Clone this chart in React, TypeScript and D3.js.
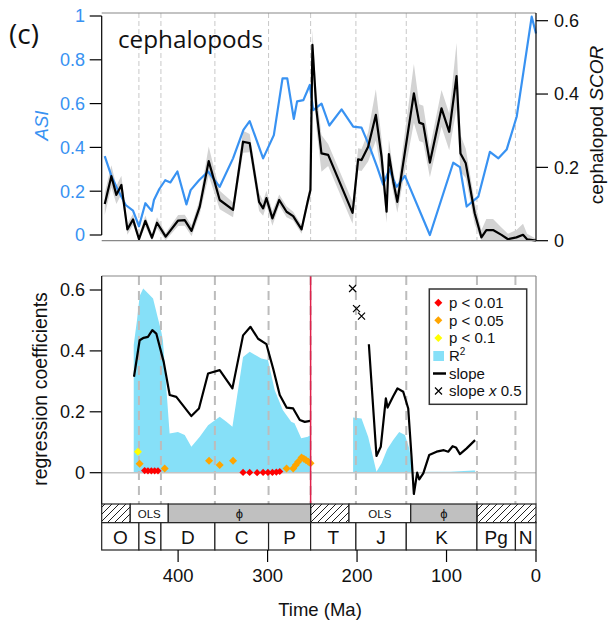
import React from 'react';
import * as d3 from 'd3';

// ---------- data ----------
const periodBounds = [485.4, 443.8, 419.2, 358.9, 298.9, 251.9, 201.3, 145, 66, 23, 0];
const periodNames = ['O', 'S', 'D', 'C', 'P', 'T', 'J', 'K', 'Pg', 'N'];
const methodBounds = [485.4, 453.5, 411, 251.9, 209, 140, 66, 0];
const methodKinds = ['hatch', 'OLS', 'phi', 'hatch', 'OLS', 'phi', 'hatch'];

const asiTicks = [0, 0.2, 0.4, 0.6, 0.8, 1];
const scorTicks = [0, 0.2, 0.4, 0.6];
const regTicks = [0, 0.2, 0.4, 0.6];
const timeTicks = [400, 300, 200, 100, 0];

// ASI series: [age Ma, value]
const asiSeries: [number, number][] = [
  [482, 0.36], [474.6, 0.27], [467.2, 0.205], [458.6, 0.137], [450.4, 0.111], [443.7, 0.04],
  [436.6, 0.145], [429.5, 0.11], [427, 0.16], [421, 0.21], [414.4, 0.25], [408.6, 0.24],
  [400.8, 0.29], [390.7, 0.14], [386, 0.205], [376.6, 0.25], [366.5, 0.29], [353.5, 0.22],
  [338.6, 0.35], [327, 0.48], [320, 0.52], [305, 0.35], [293, 0.456], [283.3, 0.715],
  [278, 0.715], [270.7, 0.53], [267, 0.61], [260, 0.616], [252.8, 0.685], [249, 0.57],
  [239.7, 0.6], [231, 0.5], [217.3, 0.574], [204.3, 0.495], [195, 0.49], [185.7, 0.4],
  [177.5, 0.31], [170.8, 0.23], [164, 0.3], [155.8, 0.22], [146.5, 0.27], [118.6, 0.0],
  [92.5, 0.33], [85, 0.31], [77.5, 0.13], [64.5, 0.175], [51.5, 0.38], [42, 0.35],
  [32.8, 0.39], [21.6, 0.54], [14.2, 0.74], [4.8, 0.997], [0, 0.92],
];

// cephalopod SCOR: [age, value, band half-width]
const scorSeries: [number, number, number][] = [
  [482, 0.1, 0.03], [474.6, 0.176, 0.03], [469, 0.125, 0.025], [463.4, 0.152, 0.025],
  [456.7, 0.031, 0.015], [450.4, 0.058, 0.015], [443.7, 0.004, 0.01], [436.6, 0.054, 0.015],
  [429.2, 0.008, 0.01], [423.6, 0.049, 0.015], [413.9, 0.011, 0.01], [400, 0.055, 0.015],
  [392.6, 0.056, 0.015], [385, 0.027, 0.015], [375.8, 0.093, 0.02], [365.8, 0.217, 0.04],
  [353.5, 0.111, 0.025], [338.6, 0.084, 0.02], [327.4, 0.27, 0.03], [320, 0.266, 0.025],
  [309.5, 0.106, 0.025], [305, 0.088, 0.02], [301.3, 0.116, 0.02], [294.6, 0.061, 0.02],
  [287, 0.111, 0.015], [278.8, 0.079, 0.015], [271.4, 0.067, 0.012], [262, 0.031, 0.012],
  [254.8, 0.111, 0.015], [252.1, 0.138, 0.02], [249.9, 0.534, 0.04], [245.4, 0.356, 0.05],
  [239.8, 0.238, 0.05], [232.3, 0.234, 0.03], [205, 0.076, 0.03], [198.8, 0.222, 0.03],
  [195, 0.22, 0.03], [187.6, 0.256, 0.04], [179, 0.343, 0.07], [172.6, 0.229, 0.05],
  [167, 0.079, 0.03], [164.4, 0.236, 0.04], [159.5, 0.161, 0.03], [155, 0.106, 0.03],
  [136.5, 0.402, 0.08], [130.5, 0.322, 0.05], [126, 0.318, 0.05], [118.6, 0.213, 0.04],
  [105.6, 0.361, 0.05], [97, 0.297, 0.05], [88.8, 0.449, 0.09], [84.4, 0.238, 0.05],
  [78.5, 0.211, 0.04], [68.5, 0.075, 0.03], [61, 0.009, 0.02], [55.5, 0.029, 0.03],
  [48, 0.029, 0.03], [38.6, 0.016, 0.02], [31.3, 0.004, 0.015], [21.9, 0.009, 0.02],
  [14.5, 0.016, 0.03], [10, 0.004, 0.015], [0, 0, 0.005],
];

// regression: R^2 areas
const r2Early: [number, number][] = [
  [449.6, 0.42], [446, 0.5], [443, 0.58], [439, 0.605], [434, 0.59], [428, 0.572],
  [422.5, 0.506], [418.7, 0.462], [417, 0.435], [409.5, 0.129], [400.2, 0.134],
  [392.6, 0.124], [385.2, 0.085], [375.8, 0.118], [366.5, 0.156], [353.5, 0.184],
  [346, 0.167], [339.3, 0.151], [327.4, 0.38], [320, 0.397], [307, 0.375], [299.6, 0.37],
  [292, 0.271], [283, 0.206], [273.6, 0.167], [269.9, 0.162], [262.4, 0.113], [255, 0.118],
  [252.3, 0.124],
];
const r2Late: [number, number][] = [
  [204.4, 0.181], [195, 0.178], [187.6, 0.118], [178.3, 0.003], [172.6, 0.031],
  [166.3, 0.077], [159.6, 0.107], [152.9, 0.134], [146.5, 0.124], [141.7, 0.08],
  [137.2, 0.0], [120.5, 0.003], [96.2, 0.003], [70, 0.007], [68, 0.007],
];
// slope lines
const slopeEarly: [number, number][] = [
  [449.3, 0.315], [443, 0.435], [438.5, 0.443], [433.7, 0.446], [428.8, 0.468],
  [424.4, 0.457], [416.1, 0.364], [409.4, 0.255], [402, 0.249], [385.2, 0.186],
  [376.7, 0.211], [366.5, 0.326], [353.5, 0.337], [339.3, 0.277], [327.4, 0.451],
  [319.1, 0.479], [310.6, 0.44], [301.3, 0.422], [293.8, 0.342], [286.4, 0.255],
  [278.8, 0.214], [271.4, 0.211], [264, 0.173], [258.4, 0.167], [252.3, 0.17],
];
const slopeLate: [number, number][] = [
  [186.8, 0.422], [178.3, 0.055], [173.5, 0.085], [167.8, 0.244], [165.9, 0.214],
  [159.6, 0.251], [154.8, 0.277], [148.4, 0.266], [142.8, 0.211], [139.1, 0.052],
  [136.5, -0.07], [132.8, 0.0], [130.5, -0.022], [126, -0.002], [119.4, 0.058],
  [111.1, 0.069], [103, 0.074], [98.1, 0.069], [93.2, 0.087], [89.5, 0.083],
  [85, 0.061], [77.5, 0.08], [68.1, 0.107],
];
const slopeHalf: [number, number][] = [[205, 0.605], [200.6, 0.539], [195, 0.514]];

// significance markers
const p01: [number, number][] = [
  [437.4, 0.007], [433.7, 0.006], [429.9, 0.006], [426.2, 0.006], [422.5, 0.006],
  [327.4, 0.001], [320, 0.001], [311.7, 0.0], [305, 0.001], [299.6, 0.001],
  [294.6, 0.001], [290.2, 0.002], [286.4, 0.004],
];
const p05: [number, number][] = [
  [443, 0.029], [415, 0.014], [365.4, 0.039], [353.5, 0.025], [338.6, 0.039],
  [278.8, 0.014], [271.4, 0.014], [268.5, 0.025], [265.8, 0.036], [262, 0.05],
  [259.5, 0.046], [257.2, 0.042], [254.5, 0.036], [252, 0.031],
];
const p1: [number, number][] = [[444.9, 0.069]];

// ---------- layout ----------
const W = 608, H = 625;
const XL = 101.7, XR = 536;
const x = d3.scaleLinear().domain([485.4, 0]).range([XL, XR]);
const yAsi = d3.scaleLinear().domain([0, 1]).range([235, 16]);
const yScor = d3.scaleLinear().domain([0, 0.6]).range([240.7, 20.7]);
const yReg = d3.scaleLinear().domain([0, 0.6]).range([472.7, 290]);
const TOP1 = 13, BOT1 = 240.7, TOP2 = 276, BOT2 = 504, MID = 522.7, BOT3 = 550;

const BLUE = '#3892f2';
const CYAN = '#86e0f8';
const FONT = '"Liberation Sans", Arial, sans-serif';

const line2 = d3.line<[number, number]>().x(d => x(d[0])).y(d => yReg(d[1]));
const area2 = d3.area<[number, number]>().x(d => x(d[0])).y0(yReg(0)).y1(d => yReg(d[1]));
const asiLine = d3.line<[number, number]>().x(d => x(d[0])).y(d => yAsi(d[1]));
const scorLine = d3.line<[number, number, number]>().x(d => x(d[0])).y(d => yScor(d[1]));
const scorBand = d3.area<[number, number, number]>()
  .x(d => x(d[0]))
  .y0(d => yScor(Math.max(0, d[1] - d[2])))
  .y1(d => yScor(d[1] + d[2]));

const diamond = (cx: number, cy: number, r: number) =>
  `M${cx},${cy - r}L${cx + r},${cy}L${cx},${cy + r}L${cx - r},${cy}Z`;
const cross = (cx: number, cy: number, r: number) =>
  `M${cx - r},${cy - r}L${cx + r},${cy + r}M${cx - r},${cy + r}L${cx + r},${cy - r}`;

const fmt = (v: number) => (v === 0 ? '0' : v === 1 ? '1' : String(v));

export default function App() {
  const inner = periodBounds.slice(1, -1);
  const legendY = [302.7, 320.3, 338, 356, 373.5, 391];
  return (
    <svg width={W} height={H} style={{ position: 'absolute', left: 0, top: 0, background: '#fff' }}
      fontFamily={FONT}>
      <defs>
        <pattern id="hatch" patternUnits="userSpaceOnUse" width="7" height="7">
          <path d="M-1,1 l2,-2 M0,7 l7,-7 M6,8 l2,-2" stroke="#222" strokeWidth="1" />
        </pattern>
      </defs>

      {/* ===== TOP PANEL ===== */}
      {inner.map(a => (
        <line key={'d1' + a} x1={x(a)} x2={x(a)} y1={TOP1} y2={BOT1}
          stroke="#c8c8c8" strokeWidth={1} strokeDasharray="5,3" />
      ))}
      <path d={scorBand(scorSeries) || ''} fill="#d3d3d3" />
      <path d={asiLine(asiSeries) || ''} fill="none" stroke={BLUE} strokeWidth={2.2} strokeLinejoin="round" />
      <path d={scorLine(scorSeries) || ''} fill="none" stroke="#000" strokeWidth={2.2} strokeLinejoin="round" />
      <line x1={XL} x2={XR} y1={TOP1} y2={TOP1} stroke="#888" strokeWidth={1.2} />
      <line x1={XL} x2={XR} y1={BOT1} y2={BOT1} stroke="#888" strokeWidth={1.2} />
      {/* left ASI axis */}
      <line x1={XL} x2={XL} y1={yAsi(1)} y2={yAsi(0)} stroke="#000" strokeWidth={1.2} />
      {asiTicks.map(t => (
        <g key={'at' + t}>
          <line x1={XL - 12} x2={XL} y1={yAsi(t)} y2={yAsi(t)} stroke="#000" strokeWidth={1.2} />
          <text x={85} y={yAsi(t)} dy="0.35em" textAnchor="end" fontSize={18} fill={BLUE}>{fmt(t)}</text>
        </g>
      ))}
      <text transform={`translate(48,${yAsi(0.5)}) rotate(-90)`} textAnchor="middle" fontSize={18.5}
        fill={BLUE} fontStyle="italic">ASI</text>
      {/* right SCOR axis */}
      <line x1={XR} x2={XR} y1={TOP1} y2={BOT1} stroke="#000" strokeWidth={1.2} />
      {scorTicks.map(t => (
        <g key={'st' + t}>
          <line x1={XR} x2={XR + 12} y1={yScor(t)} y2={yScor(t)} stroke="#000" strokeWidth={1.2} />
          <text x={554} y={yScor(t)} dy="0.35em" fontSize={18} fill="#111">{fmt(t)}</text>
        </g>
      ))}
      <text transform={`translate(603,125) rotate(-90)`} textAnchor="middle" fontSize={19} fill="#111">
        cephalopod <tspan fontStyle="italic">SCOR</tspan>
      </text>
      <text x={9} y={44} fontSize={28} fontFamily='"Open Sans", sans-serif' fill="#111">(c)</text>
      <text x={118} y={48} fontSize={23} fontFamily='"Open Sans", sans-serif' fill="#111"
        textLength={145} lengthAdjust="spacingAndGlyphs">cephalopods</text>

      {/* ===== BOTTOM PANEL ===== */}
      <path d={area2(r2Early) || ''} fill={CYAN} />
      <path d={area2(r2Late) || ''} fill={CYAN} />
      {inner.map(a => (
        <line key={'d2' + a} x1={x(a)} x2={x(a)} y1={TOP2} y2={BOT2}
          stroke="#bcbcbc" strokeWidth={2} strokeDasharray="9,6" />
      ))}
      <line x1={XL} x2={XR} y1={yReg(0)} y2={yReg(0)} stroke="#c4c4c4" strokeWidth={1.5} />
      <path d={line2(slopeEarly) || ''} fill="none" stroke="#000" strokeWidth={2.2} strokeLinejoin="round" />
      <path d={line2(slopeLate) || ''} fill="none" stroke="#000" strokeWidth={2.2} strokeLinejoin="round" />
      {slopeHalf.map((d, i) => (
        <path key={'x' + i} d={cross(x(d[0]), yReg(d[1]), 3.5)} stroke="#000" strokeWidth={1.2} fill="none" />
      ))}
      {p05.map((d, i) => <path key={'o' + i} d={diamond(x(d[0]), yReg(d[1]), 4)} fill="#ffa500" />)}
      {p01.map((d, i) => <path key={'r' + i} d={diamond(x(d[0]), yReg(d[1]), 3.6)} fill="#ff0000" />)}
      {p1.map((d, i) => <path key={'y' + i} d={diamond(x(d[0]), yReg(d[1]), 4)} fill="#ffff00" />)}
      <line x1={x(251.9)} x2={x(251.9)} y1={TOP2} y2={BOT2} stroke="#e0204a" strokeWidth={1.5} />
      <line x1={XL} x2={XR} y1={TOP2} y2={TOP2} stroke="#888" strokeWidth={1.2} />
      <line x1={XR} x2={XR} y1={TOP2} y2={BOT2} stroke="#888" strokeWidth={1.2} />
      <line x1={XL} x2={XL} y1={TOP2} y2={BOT2} stroke="#000" strokeWidth={1.2} />
      {regTicks.map(t => (
        <g key={'rt' + t}>
          <line x1={XL - 12} x2={XL} y1={yReg(t)} y2={yReg(t)} stroke="#000" strokeWidth={1.2} />
          <text x={85} y={yReg(t)} dy="0.35em" textAnchor="end" fontSize={18} fill="#111">{fmt(t)}</text>
        </g>
      ))}
      <text transform={`translate(47,389) rotate(-90)`} textAnchor="middle" fontSize={19.5} fill="#111">
        regression coefficients
      </text>

      {/* legend */}
      <rect x={429.3} y={289} width={97.4} height={115.3} fill="#fff" stroke="#333" strokeWidth={1.5} />
      <path d={diamond(438.3, legendY[0], 4)} fill="#ff0000" />
      <path d={diamond(438.3, legendY[1], 4)} fill="#ffa500" />
      <path d={diamond(438.3, legendY[2], 4)} fill="#ffff00" />
      <rect x={433.3} y={legendY[3] - 5} width={10.7} height={10} fill={CYAN} />
      <line x1={433} x2={446} y1={legendY[4]} y2={legendY[4]} stroke="#000" strokeWidth={2.5} />
      <path d={cross(438.5, legendY[5], 3.5)} stroke="#000" strokeWidth={1.2} fill="none" />
      {['p < 0.01', 'p < 0.05', 'p < 0.1'].map((s, i) => (
        <text key={s} x={449} y={legendY[i]} dy="0.35em" fontSize={15} fill="#111">{s}</text>
      ))}
      <text x={449} y={legendY[3]} dy="0.35em" fontSize={15} fill="#111">R<tspan fontSize={10} dy="-6">2</tspan></text>
      <text x={449} y={legendY[4]} dy="0.35em" fontSize={15} fill="#111">slope</text>
      <text x={449} y={legendY[5]} dy="0.35em" fontSize={15} fill="#111">slope <tspan fontStyle="italic">x</tspan> 0.5</text>

      {/* ===== TIMESCALE ===== */}
      {methodKinds.map((k, i) => {
        const x0 = x(methodBounds[i]), x1 = x(methodBounds[i + 1]);
        return (
          <g key={'m' + i}>
            <rect x={x0} y={BOT2} width={x1 - x0} height={MID - BOT2}
              fill={k === 'hatch' ? 'url(#hatch)' : k === 'phi' ? '#c0c0c0' : '#fff'}
              stroke="#222" strokeWidth={1.2} />
            {k !== 'hatch' && (
              <text x={(x0 + x1) / 2} y={517.5} textAnchor="middle" fontSize={k === 'OLS' ? 11.5 : 13}
                fill="#111">{k === 'OLS' ? 'OLS' : 'ϕ'}</text>
            )}
          </g>
        );
      })}
      {periodNames.map((n, i) => {
        const x0 = x(periodBounds[i]), x1 = x(periodBounds[i + 1]);
        return (
          <g key={'p' + n}>
            <rect x={x0} y={MID} width={x1 - x0} height={BOT3 - MID} fill="#fff" stroke="#222" strokeWidth={1.2} />
            <text x={(x0 + x1) / 2} y={544} textAnchor="middle" fontSize={19} fill="#111">{n}</text>
          </g>
        );
      })}
      {timeTicks.map(t => (
        <g key={'tt' + t}>
          <line x1={x(t)} x2={x(t)} y1={BOT3} y2={BOT3 + 12} stroke="#000" strokeWidth={1.2} />
          <text x={x(t)} y={582} textAnchor="middle" fontSize={18.5} fill="#111">{t}</text>
        </g>
      ))}
      <text x={320} y={616} textAnchor="middle" fontSize={18.5} fill="#111">Time (Ma)</text>
    </svg>
  );
}
